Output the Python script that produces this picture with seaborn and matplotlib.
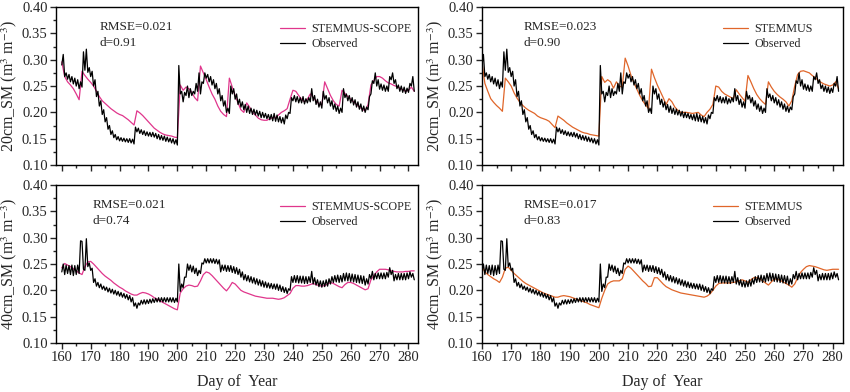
import numpy as np
import pandas as pd
import seaborn as sns
import matplotlib.pyplot as plt
from matplotlib.ticker import MultipleLocator

# observed soil moisture, half-day samples from day 160 to 282
obs_days = np.arange(160, 282.01, 0.5)
obs_20 = [
    0.290, 0.310, 0.268, 0.275, 0.263, 0.272, 0.258, 0.268, 0.254, 0.265,
    0.250, 0.262, 0.245, 0.258, 0.248, 0.315, 0.280, 0.320, 0.276, 0.285,
    0.268, 0.278, 0.250, 0.262, 0.230, 0.240, 0.212, 0.222, 0.196, 0.205,
    0.182, 0.190, 0.168, 0.175, 0.158, 0.165, 0.152, 0.158, 0.148, 0.154,
    0.146, 0.152, 0.145, 0.151, 0.144, 0.150, 0.143, 0.150, 0.142, 0.149,
    0.140, 0.172, 0.163, 0.170, 0.160, 0.167, 0.158, 0.165, 0.156, 0.163,
    0.155, 0.162, 0.154, 0.162, 0.153, 0.160, 0.150, 0.158, 0.148, 0.156,
    0.147, 0.155, 0.145, 0.153, 0.144, 0.151, 0.142, 0.150, 0.140, 0.148,
    0.138, 0.289, 0.235, 0.240, 0.220, 0.238, 0.232, 0.250, 0.228, 0.245,
    0.232, 0.240, 0.235, 0.255, 0.240, 0.275, 0.235, 0.258, 0.255, 0.275,
    0.265, 0.272, 0.258, 0.268, 0.252, 0.262, 0.245, 0.255, 0.235, 0.245,
    0.222, 0.232, 0.212, 0.222, 0.200, 0.208, 0.198, 0.250, 0.235, 0.245,
    0.225, 0.235, 0.215, 0.225, 0.210, 0.220, 0.205, 0.215, 0.200, 0.212,
    0.198, 0.208, 0.196, 0.206, 0.195, 0.204, 0.193, 0.202, 0.190, 0.200,
    0.190, 0.198, 0.188, 0.196, 0.186, 0.196, 0.184, 0.198, 0.183, 0.195,
    0.182, 0.192, 0.180, 0.190, 0.178, 0.195, 0.188, 0.200, 0.198, 0.228,
    0.222, 0.232, 0.220, 0.230, 0.218, 0.228, 0.218, 0.230, 0.216, 0.226,
    0.218, 0.228, 0.220, 0.245, 0.222, 0.232, 0.215, 0.225, 0.210, 0.220,
    0.208, 0.240, 0.225, 0.232, 0.218, 0.228, 0.212, 0.222, 0.206, 0.216,
    0.202, 0.212, 0.198, 0.208, 0.200, 0.245, 0.228, 0.235, 0.222, 0.232,
    0.218, 0.228, 0.214, 0.224, 0.210, 0.220, 0.206, 0.216, 0.202, 0.212,
    0.200, 0.210, 0.205, 0.230, 0.235, 0.260, 0.255, 0.275, 0.250, 0.262,
    0.244, 0.254, 0.242, 0.252, 0.240, 0.250, 0.240, 0.268, 0.262, 0.275,
    0.255, 0.262, 0.245, 0.252, 0.240, 0.250, 0.238, 0.248, 0.236, 0.246,
    0.238, 0.255, 0.250, 0.268, 0.240,
]
obs_40 = [
    0.235, 0.250, 0.230, 0.248, 0.232, 0.247, 0.230, 0.248, 0.228, 0.247,
    0.230, 0.248, 0.232, 0.294, 0.293, 0.240, 0.238, 0.298, 0.245, 0.252,
    0.238, 0.242, 0.215, 0.222, 0.208, 0.215, 0.205, 0.212, 0.202, 0.208,
    0.200, 0.206, 0.197, 0.204, 0.195, 0.202, 0.193, 0.200, 0.191, 0.198,
    0.189, 0.196, 0.187, 0.194, 0.185, 0.192, 0.182, 0.190, 0.178, 0.186,
    0.170, 0.176, 0.166, 0.176, 0.172, 0.181, 0.174, 0.182, 0.174, 0.182,
    0.175, 0.183, 0.176, 0.184, 0.177, 0.185, 0.178, 0.186, 0.178, 0.186,
    0.178, 0.186, 0.178, 0.186, 0.178, 0.186, 0.178, 0.186, 0.177, 0.185,
    0.178, 0.250, 0.198, 0.212, 0.205, 0.225, 0.225, 0.250, 0.238, 0.248,
    0.235, 0.246, 0.232, 0.242, 0.228, 0.238, 0.232, 0.252, 0.250, 0.260,
    0.252, 0.260, 0.252, 0.260, 0.252, 0.260, 0.251, 0.259, 0.250, 0.258,
    0.235, 0.248, 0.238, 0.248, 0.236, 0.247, 0.236, 0.247, 0.234, 0.245,
    0.232, 0.243, 0.230, 0.240, 0.225, 0.235, 0.220, 0.230, 0.218, 0.228,
    0.216, 0.226, 0.214, 0.224, 0.212, 0.222, 0.210, 0.220, 0.208, 0.218,
    0.206, 0.216, 0.205, 0.214, 0.204, 0.213, 0.203, 0.212, 0.202, 0.212,
    0.200, 0.210, 0.198, 0.207, 0.196, 0.205, 0.194, 0.203, 0.200, 0.226,
    0.215, 0.228, 0.215, 0.228, 0.214, 0.227, 0.214, 0.227, 0.213, 0.226,
    0.213, 0.226, 0.215, 0.236, 0.212, 0.224, 0.210, 0.220, 0.207, 0.218,
    0.206, 0.218, 0.207, 0.220, 0.208, 0.222, 0.212, 0.226, 0.215, 0.228,
    0.216, 0.229, 0.215, 0.228, 0.216, 0.232, 0.218, 0.233, 0.218, 0.232,
    0.217, 0.231, 0.216, 0.230, 0.215, 0.229, 0.214, 0.228, 0.213, 0.227,
    0.210, 0.222, 0.212, 0.230, 0.222, 0.236, 0.220, 0.232, 0.222, 0.233,
    0.222, 0.233, 0.222, 0.233, 0.222, 0.234, 0.225, 0.243, 0.230, 0.238,
    0.218, 0.230, 0.220, 0.232, 0.220, 0.232, 0.220, 0.232, 0.220, 0.233,
    0.222, 0.235, 0.225, 0.232, 0.220,
]

# simulated, daily values from day 160 to 282
sim_days = np.arange(160, 283)
scope_20 = [
    0.296, 0.268, 0.258, 0.252, 0.245, 0.235, 0.224, 0.278, 0.270, 0.263,
    0.257, 0.250, 0.240, 0.230, 0.222, 0.217, 0.212, 0.207, 0.203, 0.199,
    0.196, 0.194, 0.190, 0.186, 0.181, 0.176, 0.203, 0.199, 0.194, 0.188,
    0.182, 0.176, 0.170, 0.166, 0.162, 0.159, 0.157, 0.156, 0.155, 0.153,
    0.152, 0.252, 0.242, 0.248, 0.245, 0.238, 0.228, 0.222, 0.288, 0.275,
    0.262, 0.248, 0.235, 0.225, 0.212, 0.202, 0.196, 0.192, 0.265, 0.248,
    0.232, 0.218, 0.205, 0.200, 0.218, 0.210, 0.200, 0.195, 0.189, 0.186,
    0.185, 0.185, 0.188, 0.190, 0.190, 0.195, 0.200, 0.203, 0.207, 0.225,
    0.242, 0.240, 0.232, 0.225, 0.220, 0.225, 0.235, 0.228, 0.222, 0.216,
    0.214, 0.258, 0.245, 0.232, 0.222, 0.215, 0.212, 0.242, 0.236, 0.230,
    0.225, 0.220, 0.215, 0.210, 0.206, 0.203, 0.215, 0.252, 0.260, 0.268,
    0.268, 0.265, 0.260, 0.256, 0.254, 0.251, 0.249, 0.246, 0.243, 0.240,
    0.242, 0.248, 0.240,
]
stemmus_20 = [
    0.295, 0.255, 0.240, 0.226, 0.219, 0.213, 0.208, 0.202, 0.265, 0.258,
    0.250, 0.237, 0.227, 0.219, 0.213, 0.208, 0.204, 0.201, 0.198, 0.193,
    0.190, 0.188, 0.186, 0.183, 0.177, 0.171, 0.193, 0.189, 0.185, 0.180,
    0.176, 0.172, 0.169, 0.166, 0.163, 0.161, 0.160, 0.158, 0.157, 0.156,
    0.155, 0.268, 0.257, 0.262, 0.258, 0.246, 0.258, 0.250, 0.248, 0.303,
    0.288, 0.270, 0.256, 0.244, 0.232, 0.222, 0.214, 0.207, 0.282, 0.266,
    0.252, 0.240, 0.228, 0.215, 0.226, 0.220, 0.210, 0.204, 0.200, 0.200,
    0.200, 0.199, 0.198, 0.199, 0.200, 0.195, 0.192, 0.200, 0.206, 0.215,
    0.250, 0.248, 0.240, 0.235, 0.232, 0.229, 0.226, 0.243, 0.235, 0.228,
    0.221, 0.270, 0.258, 0.245, 0.234, 0.226, 0.220, 0.215, 0.258, 0.248,
    0.240, 0.234, 0.229, 0.225, 0.220, 0.212, 0.222, 0.250, 0.272, 0.278,
    0.279, 0.277, 0.275, 0.270, 0.266, 0.261, 0.257, 0.254, 0.252, 0.250,
    0.252, 0.258, 0.245,
]
scope_40 = [
    0.243, 0.251, 0.248, 0.245, 0.241, 0.237, 0.233, 0.230, 0.245, 0.254,
    0.255, 0.250, 0.244, 0.238, 0.232, 0.227, 0.223, 0.219, 0.214, 0.210,
    0.206, 0.203, 0.199, 0.196, 0.193, 0.191, 0.191, 0.194, 0.196, 0.195,
    0.193, 0.190, 0.186, 0.183, 0.180, 0.177, 0.174, 0.171, 0.168, 0.165,
    0.163, 0.195, 0.203, 0.208, 0.210, 0.209, 0.207, 0.208, 0.218, 0.230,
    0.235, 0.233, 0.228, 0.222, 0.216, 0.210, 0.204, 0.199, 0.206, 0.215,
    0.212, 0.206, 0.200, 0.197, 0.195, 0.193, 0.191, 0.189, 0.188, 0.187,
    0.186, 0.185, 0.185, 0.185, 0.184, 0.183, 0.184, 0.186, 0.190, 0.194,
    0.204, 0.209, 0.209, 0.208, 0.208, 0.209, 0.211, 0.213, 0.211, 0.209,
    0.208, 0.209, 0.212, 0.215, 0.213, 0.210, 0.207, 0.205, 0.211, 0.215,
    0.215, 0.213, 0.210, 0.207, 0.204, 0.201, 0.203, 0.220, 0.228, 0.235,
    0.240, 0.240, 0.240, 0.239, 0.237, 0.236, 0.235, 0.235, 0.235, 0.236,
    0.236, 0.237, 0.237,
]
stemmus_40 = [
    0.245, 0.235, 0.230, 0.226, 0.222, 0.219, 0.215, 0.225, 0.242, 0.244,
    0.238, 0.232, 0.227, 0.222, 0.217, 0.213, 0.210, 0.207, 0.204, 0.201,
    0.198, 0.195, 0.193, 0.191, 0.189, 0.187, 0.187, 0.189, 0.190, 0.189,
    0.188, 0.186, 0.184, 0.182, 0.180, 0.178, 0.176, 0.173, 0.171, 0.169,
    0.167, 0.185, 0.200, 0.212, 0.216, 0.218, 0.218, 0.218, 0.222, 0.240,
    0.246, 0.242, 0.236, 0.230, 0.224, 0.218, 0.213, 0.207, 0.208, 0.224,
    0.224, 0.218, 0.212, 0.207, 0.204, 0.201, 0.199, 0.197, 0.195, 0.194,
    0.193, 0.192, 0.191, 0.190, 0.189, 0.188, 0.187, 0.189, 0.193, 0.200,
    0.208, 0.213, 0.214, 0.214, 0.214, 0.214, 0.215, 0.216, 0.218, 0.220,
    0.218, 0.215, 0.220, 0.224, 0.224, 0.222, 0.218, 0.214, 0.210, 0.216,
    0.222, 0.221, 0.219, 0.216, 0.213, 0.210, 0.206, 0.212, 0.224, 0.234,
    0.240, 0.245, 0.247, 0.246, 0.245, 0.243, 0.241, 0.239, 0.238, 0.239,
    0.240, 0.240, 0.240,
]

stats = {
    (0, 0): ("0.021", "0.91"), (0, 1): ("0.023", "0.90"),
    (1, 0): ("0.021", "0.74"), (1, 1): ("0.017", "0.83"),
}

sns.set_style("ticks")
plt.rcParams['font.family'] = ['Liberation Serif', 'DejaVu Serif']
plt.rcParams['mathtext.fontset'] = 'stix'
plt.rcParams['axes.linewidth'] = 1.0

pink = '#e0368c'
orange = '#e0662a'

fig = plt.figure(figsize=(8.5, 3.92), dpi=100)
lefts = [0.0659, 0.567]
widths = [0.4259, 0.4247]
bottoms = [0.579, 0.125]
xlims = [(158, 283.3), (160, 283.5)]
leg_x = {(0, 0): 0.619, (0, 1): 0.668, (1, 0): 0.619, (1, 1): 0.64}

sims = {(0, 0): (scope_20, 'STEMMUS-SCOPE', pink),
        (0, 1): (stemmus_20, 'STEMMUS', orange),
        (1, 0): (scope_40, 'STEMMUS-SCOPE', pink),
        (1, 1): (stemmus_40, 'STEMMUS', orange)}
obs = [obs_20, obs_40]
depth = ['20cm', '40cm']

for r in range(2):
    for c in range(2):
        ax = fig.add_axes([lefts[c], bottoms[r], widths[c], 0.403])
        sim, name, col = sims[(r, c)]
        sns.lineplot(x=sim_days, y=sim, ax=ax, color=col, lw=0.9,
                     label=name, estimator=None)
        sns.lineplot(x=obs_days, y=obs[r], ax=ax, color='black', lw=0.9,
                     label='Observed', estimator=None)
        ax.set_xlim(*xlims[c])
        ax.set_ylim(0.10, 0.40)
        ax.xaxis.set_major_locator(MultipleLocator(10))
        ax.xaxis.set_minor_locator(MultipleLocator(5))
        ax.yaxis.set_major_locator(MultipleLocator(0.05))
        ax.yaxis.set_minor_locator(MultipleLocator(0.025))
        ax.yaxis.set_major_formatter(plt.FormatStrFormatter('%.2f'))
        ax.tick_params(which='major', direction='out', length=4, width=1,
                       labelsize=10.5, pad=2)
        ax.tick_params(which='minor', direction='out', length=2.5, width=1)
        for s in ax.spines.values():
            s.set_visible(True)
            s.set_color('black')
        ax.set_ylabel(depth[r] + '_SM (m$^3$ m$^{-3}$)', fontsize=11.5, labelpad=2)
        if r == 0:
            ax.set_xlabel('')
            ax.tick_params(axis='x', labelbottom=False)
        else:
            ax.set_xlabel('Day of  Year', fontsize=11.5, labelpad=7)
        rmse, d = stats[(r, c)]
        tx = 0.12 if c == 0 else 0.116
        if r == 1 and c == 0:
            tx = 0.10
        ax.text(tx, 0.873, 'RMSE=' + rmse, transform=ax.transAxes,
                fontsize=9.5, va='center')
        ax.text(tx, 0.772, 'd=' + d, transform=ax.transAxes,
                fontsize=9.5, va='center')
        ax.legend(loc='upper left', bbox_to_anchor=(leg_x[(r, c)], 0.90),
                  frameon=False, fontsize=8.7, borderpad=0, borderaxespad=0,
                  handlelength=2.1, handletextpad=0.5, labelspacing=0.3)

fig.savefig('out.png', dpi=100)
